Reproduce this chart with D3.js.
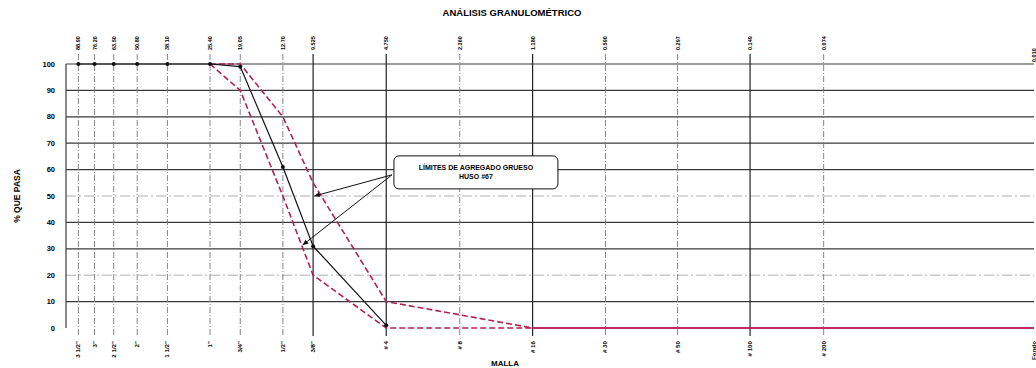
<!DOCTYPE html>
<html>
<head>
<meta charset="utf-8">
<script src="https://cdn.jsdelivr.net/npm/d3@7"></script>
<style>
  html, body { margin: 0; padding: 0; background: #fff; }
  svg { display: block; font-family: "Liberation Sans", Arial, sans-serif; font-weight: bold; }
</style>
</head>
<body>
<svg id="chart" width="1036" height="368"></svg>
<script>
// Sieve openings (mm) and their names
const openings = [88.90, 76.20, 63.50, 50.80, 38.10, 25.40, 19.05, 12.70, 9.525, 4.750, 2.360, 1.180, 0.590, 0.297, 0.149, 0.074, 0.010];
const openingLabels = ["88.90", "76.20", "63.50", "50.80", "38.10", "25.40", "19.05", "12.70", "9.525", "4.750", "2.360", "1.180", "0.590", "0.297", "0.149", "0.074", "0.010"];
const sieveNames = ["3 1/2\"", "3\"", "2 1/2\"", "2\"", "1 1/2\"", "1\"", "3/4\"", "1/2\"", "3/8\"", "# 4", "# 8", "# 16", "# 30", "# 50", "# 100", "# 200", "Fondo"];
// Sieves drawn with a solid grid line
const solidSieves = ["3/8\"", "# 4", "# 16", "# 100"];

// Sample grading (% passing), measured down to #4
const sampleOpenings = [88.90, 76.20, 63.50, 50.80, 38.10, 25.40, 19.05, 12.70, 9.525, 4.750];
const samplePassing = [100, 100, 100, 100, 100, 100, 99, 61, 31, 1];

// Coarse aggregate limits, size #67
const limitOpenings = [25.40, 19.05, 12.70, 9.525, 4.750, 2.360, 1.180, 0.590, 0.297, 0.149, 0.074, 0.010];
const upperLimit = [100, 100, 80, 55, 10, 5, 0, 0, 0, 0, 0, 0];
const lowerLimit = [100, 90, 50, 20, 0, 0, 0, 0, 0, 0, 0, 0];
const limitDashedUntil = 1.180; // dashed down to #16, solid beyond

// Y axis ticks
const yTicks = [0, 10, 20, 30, 40, 50, 60, 70, 80, 90, 100];
const yDashedTicks = [20, 50];

// Callout for the limit curves (positions in mm / % passing)
const calloutLines = ["LÍMITES DE AGREGADO GRUESO", "HUSO #67"];
const calloutAnchor = [4.5, 58];
const calloutTargets = [[9.4, 50], [10.5, 31.5]];

const svg = d3.select("#chart");
const x = d3.scaleLog().domain([100, 0.01]).range([66, 1034]);
const y = d3.scaleLinear().domain([0, 100]).range([328, 64]);

const red = "#b3214d";
const grid = "#3a3a3a";

// Title
svg.append("text").attr("x", 512).attr("y", 16).attr("text-anchor", "middle")
  .attr("font-size", 9.5).text("ANÁLISIS GRANULOMÉTRICO");

// Horizontal grid
svg.append("g").selectAll("line").data(yTicks.filter(d => d > 0)).join("line")
  .attr("x1", x.range()[0]).attr("x2", x.range()[1])
  .attr("y1", d => y(d)).attr("y2", d => y(d))
  .attr("stroke", d => yDashedTicks.includes(d) ? "#999" : grid)
  .attr("stroke-width", d => yDashedTicks.includes(d) ? 0.8 : 1.2)
  .attr("stroke-dasharray", d => yDashedTicks.includes(d) ? "10,3,2,3" : null);

// Vertical grid at each sieve
svg.append("g").selectAll("line").data(openings.slice(0, 16)).join("line")
  .attr("x1", d => x(d)).attr("x2", d => x(d))
  .attr("y1", 54).attr("y2", 336)
  .attr("stroke", (d, i) => solidSieves.includes(sieveNames[i]) ? "#222" : "#777")
  .attr("stroke-width", (d, i) => solidSieves.includes(sieveNames[i]) ? 1.2 : 0.9)
  .attr("stroke-dasharray", (d, i) => solidSieves.includes(sieveNames[i]) ? null : "6,2,1,2");

// Left frame
svg.append("line").attr("x1", x.range()[0]).attr("x2", x.range()[0])
  .attr("y1", y(100)).attr("y2", y(0)).attr("stroke", grid).attr("stroke-width", 1.2);

// Y tick labels
svg.append("g").selectAll("text").data(yTicks).join("text")
  .attr("x", 55).attr("y", d => y(d) + 2.5).attr("text-anchor", "end")
  .attr("font-size", 7.5).text(d => d);

// Y axis title
svg.append("text").attr("transform", `translate(20,${y(50)}) rotate(-90)`)
  .attr("text-anchor", "middle").attr("font-size", 8.5).text("% QUE PASA");

// Top labels: opening sizes
svg.append("g").selectAll("text").data(openings).join("text")
  .attr("transform", (d, i) => `translate(${x(d) + 2},${i === openings.length - 1 ? 62 : 50}) rotate(-90)`)
  .attr("font-size", 5.5).text((d, i) => openingLabels[i]);

// Bottom labels: sieve names
svg.append("g").selectAll("text").data(openings).join("text")
  .attr("transform", d => `translate(${x(d) + 2},341) rotate(-90)`)
  .attr("text-anchor", "end").attr("font-size", 6.2).text((d, i) => sieveNames[i]);

// X axis title
svg.append("text").attr("x", 505).attr("y", 366).attr("text-anchor", "middle")
  .attr("font-size", 8).text("MALLA");

// Limit curves
const line = d3.line().x(d => x(d[0])).y(d => y(d[1]));
[upperLimit, lowerLimit].forEach(vals => {
  const pts = limitOpenings.map((o, i) => [o, vals[i]]);
  svg.append("path").attr("d", line(pts.filter(p => p[0] >= limitDashedUntil)))
    .attr("fill", "none").attr("stroke", red).attr("stroke-width", 1.6)
    .attr("stroke-dasharray", "6,3");
  svg.append("path").attr("d", line(pts.filter(p => p[0] <= limitDashedUntil)))
    .attr("fill", "none").attr("stroke", "#c21a5a").attr("stroke-width", 1.6);
});

// Sample curve
const samplePts = sampleOpenings.map((o, i) => [o, samplePassing[i]]);
svg.append("path").attr("d", line(samplePts)).attr("fill", "none")
  .attr("stroke", "#111").attr("stroke-width", 1.2);
svg.append("g").selectAll("circle").data(samplePts).join("circle")
  .attr("cx", d => x(d[0])).attr("cy", d => y(d[1])).attr("r", 2).attr("fill", "#111");

// Callout arrows
const defs = svg.append("defs");
defs.append("marker").attr("id", "arrow").attr("viewBox", "0 0 10 10")
  .attr("refX", 9).attr("refY", 5).attr("markerWidth", 6).attr("markerHeight", 6)
  .attr("orient", "auto").append("path").attr("d", "M0,1 L10,5 L0,9 z").attr("fill", "#111");
calloutTargets.forEach(t => {
  svg.append("line")
    .attr("x1", x(calloutAnchor[0])).attr("y1", y(calloutAnchor[1]))
    .attr("x2", x(t[0])).attr("y2", y(t[1]))
    .attr("stroke", "#111").attr("stroke-width", 1).attr("marker-end", "url(#arrow)");
});

// Callout box
const bx = x(calloutAnchor[0]);
const by = y(calloutAnchor[1]);
svg.append("rect").attr("x", bx + 2).attr("y", by - 19).attr("width", 164).attr("height", 33)
  .attr("rx", 5).attr("fill", "#fff").attr("stroke", "#111").attr("stroke-width", 1);
svg.append("g").selectAll("text").data(calloutLines).join("text")
  .attr("x", bx + 84).attr("y", (d, i) => by - 5 + i * 9).attr("text-anchor", "middle")
  .attr("font-size", 7).text(d => d);
</script>
</body>
</html>
